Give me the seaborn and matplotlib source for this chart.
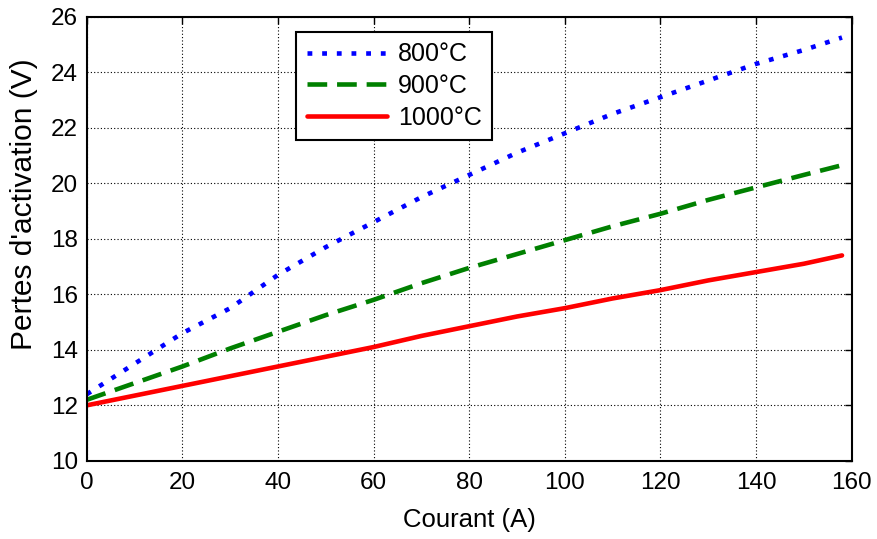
import seaborn as sns
import pandas as pd
import matplotlib
matplotlib.use("Agg")
import matplotlib.pyplot as plt

# data
courant = [0, 10, 20, 30, 40, 50, 60, 70, 80, 90, 100, 110, 120, 130, 140, 150, 158]
pertes_800 = [12.4, 13.5, 14.6, 15.5, 16.7, 17.7, 18.6, 19.5, 20.3, 21.1, 21.8, 22.5, 23.1, 23.7, 24.3, 24.8, 25.25]
pertes_900 = [12.2, 12.8, 13.4, 14.05, 14.65, 15.25, 15.8, 16.4, 16.95, 17.45, 17.95, 18.45, 18.9, 19.4, 19.85, 20.3, 20.65]
pertes_1000 = [12.0, 12.35, 12.7, 13.05, 13.4, 13.75, 14.1, 14.5, 14.85, 15.2, 15.5, 15.85, 16.15, 16.5, 16.8, 17.1, 17.4]
labels = ["800°C", "900°C", "1000°C"]
xticks = [0, 20, 40, 60, 80, 100, 120, 140, 160]
yticks = [10, 12, 14, 16, 18, 20, 22, 24, 26]

sns.set_style("white")
plt.rcParams['font.family'] = ['Liberation Sans', 'DejaVu Sans']
plt.rcParams['text.color'] = 'black'
plt.rcParams['axes.labelcolor'] = 'black'

df = pd.DataFrame({
    "Courant": courant * 3,
    "Pertes": pertes_800 + pertes_900 + pertes_1000,
    "T": [labels[0]] * len(courant) + [labels[1]] * len(courant) + [labels[2]] * len(courant),
})

fig, ax = plt.subplots(figsize=(8.77, 5.39), dpi=100)
fig.subplots_adjust(left=0.099, right=0.971, bottom=0.145, top=0.969)

palette = {labels[0]: "#0000ff", labels[1]: "#008000", labels[2]: "#ff0000"}
dashes = {labels[0]: (1.05, 2.15), labels[1]: (4.3, 2.15), labels[2]: ""}
sns.lineplot(data=df, x="Courant", y="Pertes", hue="T", style="T",
             palette=palette, dashes=dashes, linewidth=3.3, ax=ax)

ax.set_xlim(0, 160)
ax.set_ylim(10, 26)
ax.set_xticks(xticks)
ax.set_yticks(yticks)
ax.tick_params(direction="in", length=5, width=1, labelsize=17.5,
               top=True, right=True, colors="black")
ax.tick_params(axis="x", pad=8)
ax.tick_params(axis="y", pad=6.5)
ax.grid(True, color="black", linestyle=(0, (1, 2)), linewidth=0.8)
for s in ax.spines.values():
    s.set_color("black")
    s.set_linewidth(1.5)

ax.set_xlabel("Courant (A)", fontsize=18.5, labelpad=10)
ax.set_ylabel("Pertes d'activation (V)", fontsize=21.5)
ax.yaxis.set_label_coords(-0.064, 0.578)

leg = ax.legend(loc="upper left", bbox_to_anchor=(0.274, 0.966), borderaxespad=0,
                fontsize=18, handlelength=3.2, fancybox=False, framealpha=1,
                edgecolor="black", labelspacing=0.31, borderpad=0.42, handletextpad=0.45)
leg.get_frame().set_linewidth(1.5)

plt.savefig("out.png", dpi=100)
